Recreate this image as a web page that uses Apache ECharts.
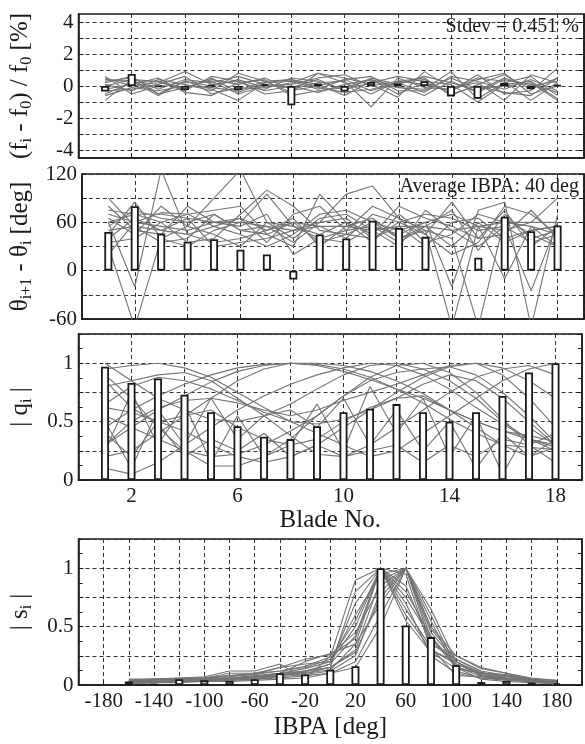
<!DOCTYPE html>
<html>
<head>
<meta charset="utf-8">
<script src="https://cdn.jsdelivr.net/npm/echarts@6.0.0/dist/echarts.min.js"></script>
<style>
  html, body { margin: 0; padding: 0; background: #fff; }
  #chart { width: 585px; height: 744px; }
</style>
</head>
<body>
<div id="chart"></div>
<script>
// blade numbers and inter-blade phase angles on the x axes
const blades = [1, 2, 3, 4, 5, 6, 7, 8, 9, 10, 11, 12, 13, 14, 15, 16, 17, 18];
const ibpa = [-160, -140, -120, -100, -80, -60, -40, -20, 0, 20, 40, 60, 80, 100, 120, 140, 160, 180];

// panel 1: frequency mistuning [%]
const freqBars = [-0.35, 0.75, -0.05, -0.25, 0.04, -0.25, 0.1, -1.2, 0.15, -0.35, 0.25, 0.15, 0.3, -0.65, -0.8, 0.2, -0.2, 0.05];
const freqLines = [
  [0.3, 0.5, -0.2, 0.4, 0.2, 0.6, 0.1, -0.1, 0.4, -0.3, 0.5, 0.1, 0.6, 0.2, -0.3, 0.5, 0.0, 0.3],
  [-0.5, 0.2, 0.3, -0.2, 0.5, -0.4, 0.2, 0.3, -0.2, 0.4, -0.3, 0.2, -0.4, 0.6, 0.3, -0.2, 0.4, -0.3],
  [0.1, -0.3, 0.4, 0.1, -0.3, 0.8, 0.3, -0.4, 0.8, 0.2, -0.5, 0.3, 0.5, -0.6, 0.1, 0.7, -0.2, 0.5],
  [-0.9, 0.4, -0.5, 0.3, -0.2, -0.9, 0.2, 0.4, 0.1, -0.6, 0.3, -0.1, -0.2, 0.9, -0.8, 0.2, 0.6, -0.6],
  [0.5, 0.0, 0.2, 0.9, 0.1, 0.3, -0.3, 0.0, -0.4, 0.1, 0.4, -0.5, 0.2, -0.3, 0.7, -0.5, -0.3, 1.1],
  [0.2, 0.6, -0.5, -0.1, 0.4, 0.1, 0.5, -0.2, 0.2, 0.3, -1.3, 0.5, -0.1, -0.2, 0.5, 0.3, -0.9, 0.2],
  [-0.3, -0.2, 0.1, 0.6, -0.5, -0.1, -0.2, 0.5, 0.3, -0.2, 0.2, 0.6, 0.3, 0.1, -1.0, 0.1, 0.3, -0.8],
  [0.4, 0.3, -0.6, 0.3, 0.0, 0.4, -0.1, 0.2, 0.8, 0.5, 0.1, -0.7, 0.9, -0.1, 0.2, -0.9, 0.7, 0.2],
  [-0.2, 0.1, 0.5, -0.4, -0.6, 0.2, 0.4, -0.6, -0.3, -0.1, 0.4, 0.0, -0.6, 0.3, -0.4, 0.4, 0.1, -0.4],
  [0.6, -0.5, 0.0, 0.2, 0.3, -0.5, 0.0, 0.1, 0.5, 0.7, 0.0, 0.3, 0.1, -0.3, 0.4, 0.8, -0.5, 0.0],
  [0.0, 0.4, 0.3, -0.3, 0.6, 0.3, -0.5, -0.3, 0.0, 0.4, 0.6, -0.3, -0.3, 0.5, -0.2, 0.0, 0.2, -0.9],
  [-0.6, -0.1, -0.3, 0.0, -0.1, -0.3, 0.3, 0.4, -0.1, -0.4, -0.2, 0.2, 0.4, -0.5, 0.0, -0.4, -0.6, 0.5]
];

// panel 2: phase difference between neighbouring blades [deg]
const phaseBars = [48, 80, 46, 36, 39, 26, 20, -11, 45, 40, 62, 53, 42, 2, 16, 67, 49, 56];
const phaseLines = [
  [55, 75, 65, 60, 70, 50, 45, 60, 55, 40, 70, 60, 45, 85, 40, 75, 30, 55],
  [70, 60, 72, 70, 75, 80, 45, 30, 95, 60, 35, 70, 45, 20, 35, 80, 70, 45],
  [45, 85, 40, 30, 50, 60, 95, 55, 40, 35, 55, 45, 60, 70, 55, 50, 60, 60],
  [60, -20, 125, 45, 35, 40, 50, 65, 30, 55, 65, 40, 50, -70, 55, -10, 55, 30],
  [30, -70, 40, 55, 90, 125, 60, 40, 65, 70, 50, 30, 75, 50, 30, 55, -25, 60],
  [75, 70, 60, 35, 40, 70, 100, 80, 50, 45, 40, 55, 30, 60, 65, 40, 50, 55],
  [50, 55, 50, 65, 30, 35, 40, 50, 60, 95, 105, 65, 50, 40, -70, 65, 45, 30],
  [40, 65, 50, 45, 55, 45, 30, 45, 70, 75, 60, 50, 60, -20, 75, 85, -70, 70],
  [80, 50, 45, 80, 60, 55, 70, 20, 40, 50, 80, 65, 35, 45, 70, 60, 60, 90],
  [65, 45, 80, 55, 45, 30, 60, 55, 45, 60, 45, 80, 65, 55, 40, 45, 75, 40],
  [20, 60, 55, 50, 60, 65, 35, 70, 80, 50, 55, 35, 55, 75, 25, 70, 40, 50],
  [90, 55, 35, 40, 70, 50, 55, 35, 60, 65, 40, 60, 70, 65, 50, 55, 35, 45],
  [35, 40, 60, 70, 55, 65, 50, 60, 35, 45, 60, 40, 55, 30, 60, 35, 50, 55],
  [60, 70, 70, 65, 60, 60, 55, 50, 55, 55, 50, 55, 55, 50, 55, 60, 55, 45]
];

// panel 3: normalised blade amplitudes |q_i|
const ampBars = [0.97, 0.83, 0.87, 0.73, 0.58, 0.46, 0.37, 0.35, 0.46, 0.58, 0.61, 0.65, 0.58, 0.5, 0.58, 0.72, 0.92, 1.0];
const ampLines = [
  [0.45, 0.6, 0.72, 0.82, 0.9, 0.96, 0.99, 1.0, 1.0, 0.98, 0.93, 0.85, 0.74, 0.6, 0.5, 0.42, 0.35, 0.3],
  [0.3, 0.45, 0.6, 0.72, 0.84, 0.93, 0.98, 1.0, 0.99, 0.95, 0.88, 0.78, 0.66, 0.52, 0.4, 0.3, 0.28, 0.26],
  [0.2, 0.25, 0.4, 0.55, 0.7, 0.85, 0.95, 1.0, 0.98, 0.93, 0.86, 0.78, 0.7, 0.6, 0.5, 0.42, 0.38, 0.33],
  [0.62, 0.58, 0.5, 0.42, 0.3, 0.2, 0.15, 0.2, 0.3, 0.45, 0.6, 0.75, 0.88, 0.97, 1.0, 0.96, 0.85, 0.7],
  [0.1, 0.05, 0.15, 0.3, 0.45, 0.6, 0.72, 0.82, 0.9, 0.96, 1.0, 0.98, 0.9, 0.78, 0.62, 0.48, 0.35, 0.28],
  [0.95, 0.98, 1.0, 0.96, 0.88, 0.75, 0.62, 0.5, 0.4, 0.3, 0.2, 0.25, 0.4, 0.55, 0.7, 0.85, 0.95, 1.0],
  [0.8, 0.85, 0.9, 0.92, 0.85, 0.7, 0.55, 0.38, 0.22, 0.2, 0.3, 0.45, 0.6, 0.75, 0.88, 0.95, 0.98, 0.9],
  [0.5, 0.1, 0.6, 0.3, 0.7, 0.35, 0.55, 0.6, 0.45, 0.7, 0.3, 0.6, 0.25, 0.5, 0.1, 0.4, 0.2, 0.35],
  [0.25, 0.75, 0.3, 0.65, 0.15, 0.55, 0.2, 0.3, 0.65, 0.25, 0.8, 0.4, 0.7, 0.2, 0.55, 0.05, 0.45, 0.3],
  [0.4, 0.2, 0.5, 0.55, 0.6, 0.45, 0.35, 0.3, 0.35, 0.5, 0.62, 0.7, 0.72, 0.6, 0.45, 0.3, 0.2, 0.28],
  [0.65, 0.8, 0.88, 0.85, 0.78, 0.68, 0.58, 0.5, 0.48, 0.52, 0.6, 0.7, 0.82, 0.9, 0.85, 0.7, 0.5, 0.3],
  [0.9, 0.7, 0.45, 0.25, 0.12, 0.12, 0.2, 0.35, 0.55, 0.72, 0.85, 0.92, 0.95, 0.97, 0.9, 0.75, 0.55, 0.32],
  [0.3, 0.5, 0.62, 0.68, 0.7, 0.66, 0.6, 0.55, 0.6, 0.68, 0.75, 0.82, 0.9, 0.98, 1.0, 0.9, 0.7, 0.45],
  [0.55, 0.45, 0.35, 0.25, 0.2, 0.22, 0.3, 0.42, 0.55, 0.72, 0.88, 0.98, 1.0, 0.92, 0.75, 0.52, 0.3, 0.15],
  [0.85, 0.62, 0.48, 0.2, 0.35, 0.25, 0.4, 0.2, 0.3, 0.2, 0.25, 0.3, 0.15, 0.3, 0.2, 0.35, 0.3, 0.4],
  [1.0, 0.85, 0.7, 0.6, 0.52, 0.5, 0.55, 0.65, 0.78, 0.9, 0.98, 1.0, 0.95, 0.85, 0.7, 0.5, 0.35, 0.25]
];

// panel 4: travelling wave spectrum |s_i|
const specBars = [0.03, 0.005, 0.05, 0.04, 0.035, 0.05, 0.1, 0.09, 0.13, 0.16, 1.0, 0.51, 0.41, 0.17, 0.025, 0.035, 0.02, 0.015];
const specLines = [
  [0.04, 0.05, 0.06, 0.07, 0.12, 0.12, 0.18, 0.05, 0.25, 0.4, 1.0, 0.6, 0.3, 0.2, 0.1, 0.08, 0.05, 0.03],
  [0.03, 0.04, 0.05, 0.06, 0.08, 0.1, 0.12, 0.15, 0.22, 0.55, 1.0, 0.75, 0.4, 0.15, 0.1, 0.05, 0.04, 0.02],
  [0.02, 0.03, 0.04, 0.05, 0.06, 0.07, 0.1, 0.12, 0.18, 0.7, 1.0, 0.85, 0.35, 0.22, 0.12, 0.08, 0.04, 0.03],
  [0.03, 0.03, 0.03, 0.04, 0.05, 0.06, 0.08, 0.1, 0.15, 0.3, 0.9, 1.0, 0.45, 0.2, 0.08, 0.06, 0.03, 0.02],
  [0.02, 0.02, 0.03, 0.04, 0.04, 0.05, 0.07, 0.09, 0.12, 0.25, 0.8, 1.0, 0.5, 0.25, 0.15, 0.1, 0.05, 0.03],
  [0.04, 0.04, 0.05, 0.05, 0.06, 0.08, 0.1, 0.2, 0.27, 0.35, 0.7, 1.0, 0.55, 0.12, 0.06, 0.04, 0.03, 0.02],
  [0.01, 0.02, 0.02, 0.03, 0.03, 0.04, 0.05, 0.06, 0.1, 0.2, 0.6, 1.0, 0.6, 0.15, 0.05, 0.03, 0.02, 0.01],
  [0.03, 0.04, 0.05, 0.06, 0.07, 0.09, 0.15, 0.18, 0.2, 0.5, 1.0, 0.95, 0.3, 0.18, 0.1, 0.07, 0.04, 0.04],
  [0.02, 0.03, 0.03, 0.04, 0.05, 0.06, 0.08, 0.12, 0.15, 0.8, 1.0, 0.7, 0.25, 0.1, 0.06, 0.05, 0.03, 0.02],
  [0.05, 0.05, 0.06, 0.06, 0.1, 0.1, 0.15, 0.22, 0.26, 0.45, 0.85, 1.0, 0.35, 0.25, 0.14, 0.1, 0.06, 0.04],
  [0.02, 0.03, 0.04, 0.04, 0.05, 0.07, 0.09, 0.1, 0.13, 0.35, 1.0, 0.65, 0.32, 0.08, 0.07, 0.05, 0.03, 0.02],
  [0.03, 0.03, 0.04, 0.05, 0.06, 0.07, 0.1, 0.14, 0.2, 0.6, 0.95, 1.0, 0.4, 0.18, 0.09, 0.06, 0.04, 0.03],
  [0.02, 0.02, 0.03, 0.03, 0.04, 0.05, 0.06, 0.08, 0.1, 0.15, 0.5, 1.0, 0.65, 0.2, 0.08, 0.05, 0.03, 0.01],
  [0.04, 0.05, 0.05, 0.06, 0.08, 0.09, 0.12, 0.16, 0.24, 0.9, 1.0, 0.55, 0.28, 0.14, 0.1, 0.09, 0.05, 0.03],
  [0.03, 0.04, 0.04, 0.05, 0.06, 0.06, 0.08, 0.11, 0.18, 0.42, 1.0, 0.8, 0.42, 0.16, 0.07, 0.05, 0.04, 0.03],
  [0.02, 0.03, 0.03, 0.04, 0.05, 0.07, 0.09, 0.12, 0.15, 0.28, 0.75, 1.0, 0.48, 0.22, 0.11, 0.06, 0.03, 0.02]
];

const FONT = '"Liberation Serif", "DejaVu Serif", serif';
const INK = '#1a1a1a';
const LINE_GREY = '#747474';

const pts = (xs, ys) => xs.map((x, i) => [x, ys[i]]);

const nameRich = {
  t: { fontFamily: FONT, fontSize: 25, lineHeight: 28, color: INK },
  s: { fontFamily: FONT, fontSize: 16, lineHeight: 15, verticalAlign: 'bottom', color: INK }
};

const gridLine = { show: true, lineStyle: { color: '#333', type: [4, 3], width: 1 } };

const grids = [
  { left: 76, right: 1, top: 14, height: 144 },
  { left: 76, right: 1, top: 174, height: 145 },
  { left: 76, right: 1, top: 334, height: 146 },
  { left: 76, right: 1, top: 539, height: 146 }
].map((g) => ({ ...g, show: true, borderColor: INK, borderWidth: 1.5 }));

const bladeAxis = (gridIndex, showLabels, name) => ({
  type: 'value',
  gridIndex,
  min: 0,
  max: 19,
  interval: 2,
  axisLine: { show: true, onZero: false, lineStyle: { color: INK, width: 1.5 } },
  axisTick: { show: true, inside: true, length: 5, lineStyle: { color: INK } },
  axisLabel: {
    show: showLabels,
    margin: 6,
    fontFamily: FONT,
    fontSize: 21,
    color: INK,
    formatter: (v) => (v % 4 === 2 ? String(v) : '')
  },
  splitLine: gridLine,
  name: name || '',
  nameLocation: 'middle',
  nameGap: 27,
  nameTextStyle: { fontFamily: FONT, fontSize: 25, color: INK }
});

const valAxis = (gridIndex, cfg, right) => ({
  type: 'value',
  gridIndex,
  position: right ? 'right' : 'left',
  min: cfg.min,
  max: cfg.max,
  interval: cfg.interval,
  axisLine: { show: true, onZero: false, lineStyle: { color: INK, width: 1.5 } },
  axisTick: { show: true, inside: true, length: 5, lineStyle: { color: INK }, customValues: cfg.ticks },
  minorTick: { show: !!cfg.minor, splitNumber: 2, length: 4, lineStyle: { color: INK } },
  axisLabel: {
    show: !right,
    margin: 5,
    fontFamily: FONT,
    fontSize: 21,
    color: INK,
    customValues: cfg.labels,
    formatter: cfg.fmt
  },
  splitLine: right ? { show: false } : gridLine,
  name: right ? '' : cfg.name,
  nameLocation: 'middle',
  nameRotate: 90,
  nameGap: 44,
  nameTextStyle: { rich: nameRich }
});

const yCfgs = [
  {
    min: -4.5, max: 4.5,
    ticks: [-4, -3, -2, -1, 0, 1, 2, 3, 4],
    labels: [-4, -2, 0, 2, 4],
    name: '{t|(f}{s|i}{t| - f}{s|0}{t|) / f}{s|0}{t| [%]}'
  },
  {
    min: -60, max: 120, interval: 30,
    fmt: (v) => (v % 60 === 0 ? String(v) : ''),
    name: '{t|θ}{s|i+1}{t| - θ}{s|i}{t| [deg]}'
  },
  {
    min: 0, max: 1.25, interval: 0.25, minor: true,
    fmt: (v) => (Math.abs(v * 2 - Math.round(v * 2)) < 1e-6 ? String(v) : ''),
    name: '{t|| q}{s|i}{t| |}'
  },
  {
    min: 0, max: 1.25, interval: 0.25, minor: true,
    fmt: (v) => (Math.abs(v * 2 - Math.round(v * 2)) < 1e-6 ? String(v) : ''),
    name: '{t|| s}{s|i}{t| |}'
  }
];

const xAxes = [
  bladeAxis(0, false),
  bladeAxis(1, false),
  bladeAxis(2, true, 'Blade No.'),
  {
    type: 'value',
    gridIndex: 3,
    min: -200,
    max: 200,
    interval: 20,
    axisLine: { show: true, onZero: false, lineStyle: { color: INK, width: 1.5 } },
    axisTick: { show: true, inside: true, length: 5, lineStyle: { color: INK } },
    axisLabel: {
      margin: 6,
      fontFamily: FONT,
      fontSize: 21,
      color: INK,
      formatter: (v) => ((v + 180) % 40 === 0 ? String(v) : '')
    },
    splitLine: gridLine,
    name: 'IBPA [deg]',
    nameLocation: 'middle',
    nameGap: 30,
    nameTextStyle: { fontFamily: FONT, fontSize: 25, color: INK }
  }
];

const yAxes = [];
yCfgs.forEach((c, i) => yAxes.push(valAxis(i, c, false)));
yCfgs.forEach((c, i) => yAxes.push(valAxis(i, c, true)));

const series = [];
const addPanel = (idx, xs, lines, bars) => {
  lines.forEach((ys) => {
    series.push({
      type: 'line',
      xAxisIndex: idx,
      yAxisIndex: idx,
      data: pts(xs, ys),
      symbol: 'none',
      silent: true,
      clip: true,
      lineStyle: { color: LINE_GREY, width: 1.1 },
      z: 2
    });
  });
  series.push({
    type: 'bar',
    xAxisIndex: idx,
    yAxisIndex: idx,
    data: pts(xs, bars),
    barWidth: 8,
    itemStyle: { color: '#fff', borderColor: INK, borderWidth: 1.8 },
    z: 5
  });
};

addPanel(0, blades, freqLines, freqBars);
addPanel(1, blades, phaseLines, phaseBars);
addPanel(2, blades, ampLines, ampBars);
addPanel(3, ibpa, specLines, specBars);

const chart = echarts.init(document.getElementById('chart'), null, { renderer: 'canvas' });
chart.setOption({
  animation: false,
  backgroundColor: '#fff',
  grid: grids,
  xAxis: xAxes,
  yAxis: yAxes,
  series,
  graphic: [
    {
      type: 'text',
      right: 6,
      top: 17,
      style: { text: 'Stdev = 0.451 %', font: '20px "Liberation Serif"', fill: INK }
    },
    {
      type: 'text',
      right: 6,
      top: 177,
      style: { text: 'Average IBPA: 40 deg', font: '20px "Liberation Serif"', fill: INK }
    }
  ]
});
</script>
</body>
</html>
